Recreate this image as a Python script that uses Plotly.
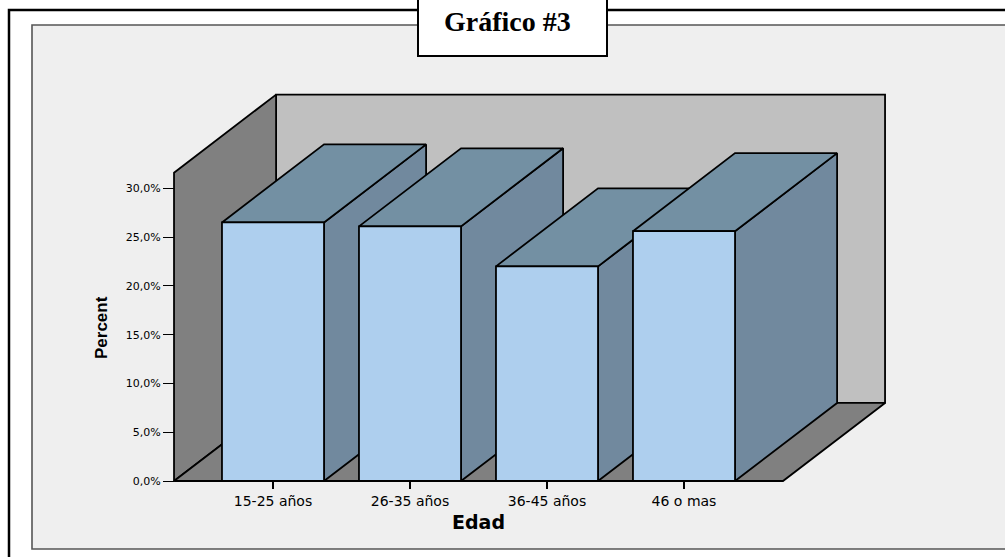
import plotly.graph_objects as go

# ---- data -------------------------------------------------------------
categories = ["15-25 años", "26-35 años", "36-45 años", "46 o mas"]
percent = [26.5, 26.1, 22.0, 25.6]
y_ticks = [0, 5, 10, 15, 20, 25, 30]
y_tick_text = [f"{t:.1f}".replace(".", ",") + "%" for t in y_ticks]

# ---- 3D box geometry (data units) ------------------------------------
BAR_W = 0.745          # bar width along the category axis
SIDE_PAD = 0.35        # floor margin beyond the outer bars
DEPTH_X = 0.745        # oblique depth offset, category units
DEPTH_Y = 8.0          # oblique depth offset, percent units
WALL_H = 31.6          # height of the side/back walls

# ---- page layout (pixels) ---------------------------------------------
W, H = 1005, 557
M = dict(l=150, r=100, t=80, b=60)
PLOT_W = W - M["l"] - M["r"]
PLOT_H = H - M["t"] - M["b"]
PX_PER_X = 137.0       # pixels per category step
PX_PER_Y = 9.757       # pixels per percentage point
CAT0_PX = 273.0        # pixel column of the first category
ZERO_PX = 481.0        # pixel row of 0 %

x_range = [(M["l"] - CAT0_PX) / PX_PER_X, (W - M["r"] - CAT0_PX) / PX_PER_X]
y_range = [(ZERO_PX - (H - M["b"])) / PX_PER_Y, (ZERO_PX - M["t"]) / PX_PER_Y]


def paper_x(px):
    return (px - M["l"]) / PLOT_W


def paper_y(py):
    return (H - M["b"] - py) / PLOT_H


BG_PANEL = "#efefef"
BACK_WALL = "#c0c0c0"
SIDE_WALL = "#808080"
BAR_FRONT = "#aecfee"
BAR_TOP = "#7390a3"
BAR_SIDE = "#71899e"
EDGE = "black"
EDGE_W = 1.8

fig = go.Figure()


def face(xs, ys, color):
    fig.add_trace(go.Scatter(
        x=list(xs) + [xs[0]], y=list(ys) + [ys[0]],
        mode="lines", fill="toself", fillcolor=color,
        line=dict(color=EDGE, width=EDGE_W),
        hoverinfo="skip", showlegend=False,
    ))


# walls and floor
left = 0 - BAR_W / 2 - SIDE_PAD
right = (len(categories) - 1) + BAR_W / 2 + SIDE_PAD
face([left + DEPTH_X, right + DEPTH_X, right + DEPTH_X, left + DEPTH_X],
     [DEPTH_Y, DEPTH_Y, WALL_H + DEPTH_Y, WALL_H + DEPTH_Y], BACK_WALL)
face([left, left + DEPTH_X, left + DEPTH_X, left],
     [0, DEPTH_Y, WALL_H + DEPTH_Y, WALL_H], SIDE_WALL)
face([left, right, right + DEPTH_X, left + DEPTH_X],
     [0, 0, DEPTH_Y, DEPTH_Y], SIDE_WALL)

# bars, left to right so each one overlaps the previous one's side
for i, v in enumerate(percent):
    x0, x1 = i - BAR_W / 2, i + BAR_W / 2
    face([x1, x1 + DEPTH_X, x1 + DEPTH_X, x1],
         [0, DEPTH_Y, v + DEPTH_Y, v], BAR_SIDE)
    face([x0, x1, x1 + DEPTH_X, x0 + DEPTH_X],
         [v, v, v + DEPTH_Y, v + DEPTH_Y], BAR_TOP)
    face([x0, x1, x1, x0], [0, 0, v, v], BAR_FRONT)

span_x = x_range[1] - x_range[0]
span_y = y_range[1] - y_range[0]

fig.update_layout(
    width=W, height=H, margin=M,
    paper_bgcolor="white", plot_bgcolor="rgba(0,0,0,0)",
    xaxis=dict(
        range=x_range, anchor="free", position=(0 - y_range[0]) / span_y,
        tickmode="array", tickvals=list(range(len(categories))), ticktext=categories,
        ticks="outside", ticklen=7, tickwidth=1.5, tickcolor="black",
        tickfont=dict(family="DejaVu Sans", size=14, color="black"),
        showline=False, showgrid=False, zeroline=False, fixedrange=True,
    ),
    yaxis=dict(
        range=y_range, anchor="free", position=(left - x_range[0]) / span_x,
        tickmode="array", tickvals=y_ticks, ticktext=y_tick_text,
        ticks="outside", ticklen=11, tickwidth=1.3, tickcolor="black",
        tickfont=dict(family="DejaVu Sans", size=11, color="black"),
        showline=False, showgrid=False, zeroline=False, fixedrange=True,
    ),
    shapes=[
        # outer frame
        dict(type="rect", xref="paper", yref="paper", layer="below",
             x0=paper_x(9), x1=paper_x(1030), y0=paper_y(10), y1=paper_y(600),
             line=dict(color="black", width=2.5), fillcolor="white"),
        # chart panel
        dict(type="rect", xref="paper", yref="paper", layer="below",
             x0=paper_x(32), x1=paper_x(1030), y0=paper_y(25), y1=paper_y(549),
             line=dict(color="#555555", width=1.6), fillcolor=BG_PANEL),
        # title box
        dict(type="rect", xref="paper", yref="paper", layer="above",
             x0=paper_x(418), x1=paper_x(607), y0=paper_y(-10), y1=paper_y(56),
             line=dict(color="black", width=2), fillcolor="white"),
    ],
    annotations=[
        dict(text="<b>Gráfico #3</b>", xref="paper", yref="paper",
             x=paper_x(507), y=paper_y(21), xanchor="center", yanchor="middle",
             showarrow=False,
             font=dict(family="Liberation Serif", size=28, color="black")),
        dict(text="<b>Edad</b>", xref="paper", yref="paper",
             x=paper_x(478), y=paper_y(522), xanchor="center", yanchor="middle",
             showarrow=False,
             font=dict(family="DejaVu Sans", size=19, color="black")),
        dict(text="<b>Percent</b>", xref="paper", yref="paper",
             x=paper_x(101), y=paper_y(328), xanchor="center", yanchor="middle",
             textangle=-90, showarrow=False,
             font=dict(family="Liberation Sans", size=17, color="black")),
    ],
)

fig.write_html("out.html", config={"displayModeBar": False})
